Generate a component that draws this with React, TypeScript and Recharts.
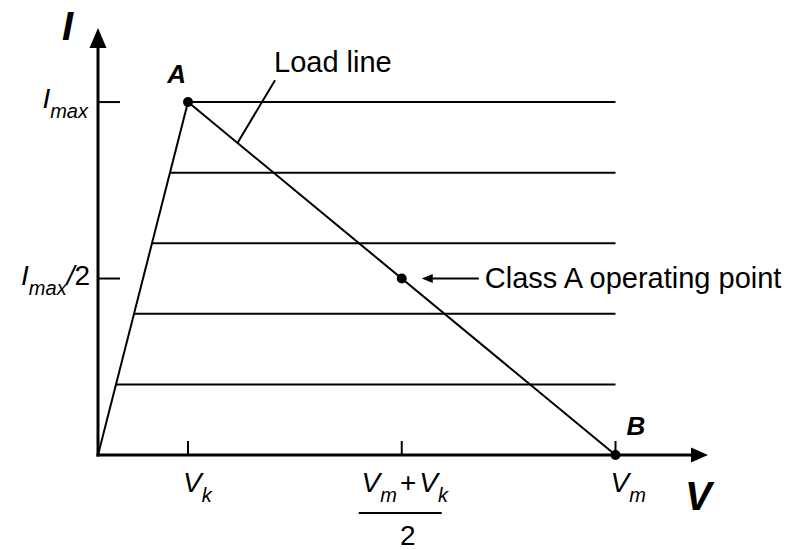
import React from "react";
import { ComposedChart, Line, XAxis, YAxis, Scatter, ReferenceDot } from "recharts";

const FONT = "'Liberation Sans', Arial, Helvetica, sans-serif";
const INK = "#000";

// Voltage axis (in units of the knee voltage Vk)
const V_KNEE = 1;
const V_OP = 3.375;
const V_MAX = 5.75;
const V_AXIS_END = 6.6;

// Current axis (in units of Imax)
const I_MAX = 1;
const I_OP = 0.5;
const I_AXIS_END = 1.156;

// Output characteristic curves: current levels and where each leaves the knee line
const currentLevels = [1, 0.8, 0.6, 0.4, 0.2];
const levelStartV = [1, 0.8, 0.6, 0.4, 0.2];

const kneeLine = [
  { v: 0, i: 0 },
  { v: V_KNEE, i: I_MAX },
];
const loadLine = [
  { v: V_KNEE, i: I_MAX },
  { v: V_MAX, i: 0 },
];
const loadLeader = [
  { v: 1.55, i: 0.884 },
  { v: 1.967, i: 1.062 },
];

const pointNames = ["A", "Class A operating point", "B"];
const pointV = [V_KNEE, V_OP, V_MAX];
const pointI = [I_MAX, I_OP, 0];
const points = pointNames.map((name, k) => ({ name, v: pointV[k], i: pointI[k] }));

const xTicks = [V_KNEE, V_OP, V_MAX];
const xTickLabels = ["Vk", "(Vm+Vk)/2", "Vm"];
const yTicks = [I_OP, I_MAX];
const yTickLabels = ["Imax/2", "Imax"];

const curves = currentLevels.map((lvl, k) => [
  { v: levelStartV[k], i: lvl },
  { v: V_MAX, i: lvl },
]);

const MAIN = 28;
const SUB = 20;

const XTick = (props: any) => {
  const { x, y, index } = props;
  const label = xTickLabels[index];
  const common = { fontFamily: FONT, fill: INK };
  let content: React.ReactNode = null;
  if (label === "Vk" || label === "Vm") {
    content = (
      <text x={x - 5} y={y + 37} fontSize={MAIN} fontStyle="italic" {...common}>
        <tspan>V</tspan>
        <tspan fontSize={SUB} dy={10}>{label === "Vk" ? "k" : "m"}</tspan>
      </text>
    );
  } else {
    content = (
      <g>
        <text x={x + 3} y={y + 37} fontSize={MAIN} fontStyle="italic" textAnchor="middle" {...common}>
          <tspan>V</tspan>
          <tspan fontSize={SUB} dy={10}>m</tspan>
          <tspan fontStyle="normal" dy={-10} dx={3}>+</tspan>
          <tspan dx={3}>V</tspan>
          <tspan fontSize={SUB} dy={10}>k</tspan>
        </text>
        <line x1={x - 43} x2={x + 40} y1={y + 58} y2={y + 58} stroke={INK} strokeWidth={2} />
        <text x={x + 6} y={y + 90} fontSize={MAIN} textAnchor="middle" {...common}>2</text>
      </g>
    );
  }
  return (
    <g>
      <line x1={x} x2={x} y1={y - 14} y2={y} stroke={INK} strokeWidth={2} />
      {content}
    </g>
  );
};

const YTick = (props: any) => {
  const { x, y, index } = props;
  const label = yTickLabels[index];
  const common = { fontFamily: FONT, fill: INK };
  return (
    <g>
      <line x1={x} x2={x + 22} y1={y} y2={y} stroke={INK} strokeWidth={2} />
      {label === "Imax" ? (
        <text x={x - 10} y={y + 6} fontSize={MAIN} fontStyle="italic" textAnchor="end" {...common}>
          <tspan>I</tspan>
          <tspan fontSize={SUB} dy={10}>max</tspan>
        </text>
      ) : (
        <text x={x - 8} y={y + 6} fontSize={MAIN} fontStyle="italic" textAnchor="end" {...common}>
          <tspan>I</tspan>
          <tspan fontSize={SUB} dy={10}>max</tspan>
          <tspan dy={-10}>/</tspan>
          <tspan fontStyle="normal">2</tspan>
        </text>
      )}
    </g>
  );
};

const PointShape = (props: any) => {
  const { cx, cy, payload } = props;
  const name = payload && payload.name;
  return (
    <g>
      <circle cx={cx} cy={cy} r={5} fill={INK} />
      {name === "A" && (
        <text x={cx - 2} y={cy - 19} textAnchor="end" fontFamily={FONT} fontSize={26} fontWeight="bold" fontStyle="italic" fill={INK}>
          A
        </text>
      )}
      {name === "B" && (
        <text x={cx + 11} y={cy - 20} fontFamily={FONT} fontSize={26} fontWeight="bold" fontStyle="italic" fill={INK}>
          B
        </text>
      )}
      {name === "Class A operating point" && (
        <g>
          <line x1={cx + 28} x2={cx + 77} y1={cy} y2={cy} stroke={INK} strokeWidth={2} />
          <path d={`M${cx + 20},${cy} L${cx + 31},${cy - 4.5} L${cx + 31},${cy + 4.5} Z`} fill={INK} />
          <text x={cx + 83} y={cy + 9} fontFamily={FONT} fontSize={29} fill={INK}>
            {name}
          </text>
        </g>
      )}
    </g>
  );
};

const YArrow = (props: any) => {
  const { cx, cy } = props;
  return (
    <g>
      <path d={`M${cx},${cy - 19} L${cx + 8.5},${cy + 1} L${cx - 8.5},${cy + 1} Z`} fill={INK} />
      <text x={cx - 25} y={cy - 7} textAnchor="end" fontFamily={FONT} fontSize={40} fontWeight="bold" fontStyle="italic" fill={INK}>
        I
      </text>
    </g>
  );
};

const XArrow = (props: any) => {
  const { cx, cy } = props;
  return (
    <g>
      <path d={`M${cx + 16},${cy} L${cx - 1},${cy - 7.5} L${cx - 1},${cy + 7.5} Z`} fill={INK} />
      <text x={cx - 7} y={cy + 55} fontFamily={FONT} fontSize={40} fontWeight="bold" fontStyle="italic" fill={INK}>
        V
      </text>
    </g>
  );
};

const LoadLabel = (props: any) => {
  const { cx, cy } = props;
  return (
    <text x={cx - 1} y={cy - 8} fontFamily={FONT} fontSize={29} fill={INK}>
      Load line
    </text>
  );
};

export default function App() {
  return (
    <div style={{ position: "absolute", left: 0, top: 0, width: 798, height: 550 }}>
      <ComposedChart width={798} height={550} margin={{ top: 47, right: 106, bottom: 55, left: 38 }}>
        <XAxis
          type="number"
          dataKey="v"
          domain={[0, V_AXIS_END]}
          ticks={xTicks}
          interval={0}
          height={40}
          tickSize={0}
          tickMargin={0}
          tickLine={false}
          tick={<XTick />}
          axisLine={{ stroke: INK, strokeWidth: 3, strokeLinecap: "square" }}
        />
        <YAxis
          type="number"
          dataKey="i"
          domain={[0, I_AXIS_END]}
          ticks={yTicks}
          interval={0}
          width={60}
          tickSize={0}
          tickMargin={0}
          tickLine={false}
          tick={<YTick />}
          axisLine={{ stroke: INK, strokeWidth: 3, strokeLinecap: "square" }}
        />
        {curves.map((c, k) => (
          <Line
            key={`curve-${k}`}
            data={c}
            dataKey="i"
            type="linear"
            stroke={INK}
            strokeWidth={2}
            dot={false}
            activeDot={false}
            isAnimationActive={false}
          />
        ))}
        <Line data={kneeLine} dataKey="i" type="linear" stroke={INK} strokeWidth={2} dot={false} activeDot={false} isAnimationActive={false} />
        <Line data={loadLine} dataKey="i" type="linear" stroke={INK} strokeWidth={2} dot={false} activeDot={false} isAnimationActive={false} />
        <Line data={loadLeader} dataKey="i" type="linear" stroke={INK} strokeWidth={2} dot={false} activeDot={false} isAnimationActive={false} />
        <ReferenceDot x={loadLeader[1].v} y={loadLeader[1].i} r={0} ifOverflow="visible" shape={<LoadLabel />} />
        <ReferenceDot x={0} y={I_AXIS_END} r={0} ifOverflow="visible" shape={<YArrow />} />
        <ReferenceDot x={V_AXIS_END} y={0} r={0} ifOverflow="visible" shape={<XArrow />} />
        <Scatter data={points} dataKey="i" shape={<PointShape />} isAnimationActive={false} />
      </ComposedChart>
    </div>
  );
}
